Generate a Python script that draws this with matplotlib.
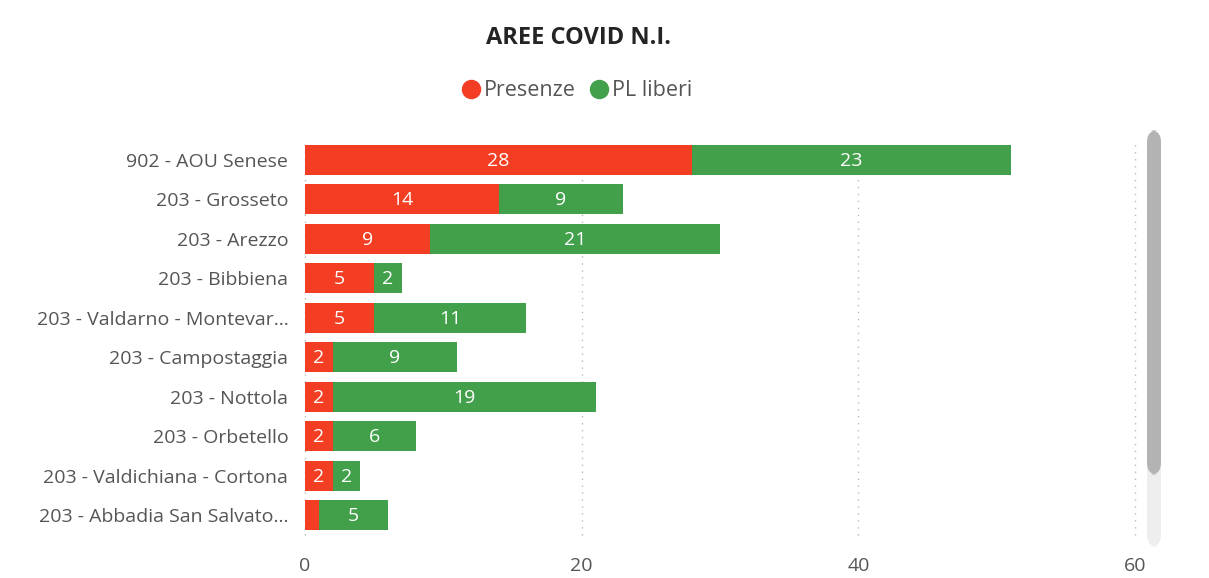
import matplotlib.pyplot as plt
from matplotlib.patches import FancyBboxPatch
from matplotlib.lines import Line2D

# Data
categories = [
    "902 - AOU Senese",
    "203 - Grosseto",
    "203 - Arezzo",
    "203 - Bibbiena",
    "203 - Valdarno - Montevar...",
    "203 - Campostaggia",
    "203 - Nottola",
    "203 - Orbetello",
    "203 - Valdichiana - Cortona",
    "203 - Abbadia San Salvato...",
]
presenze = [28, 14, 9, 5, 5, 2, 2, 2, 2, 1]
pl_liberi = [23, 9, 21, 2, 11, 9, 19, 6, 2, 5]
x_ticks = [0, 20, 40, 60]

RED = "#F43E24"
GREEN = "#42A04B"
TXT = "#555555"

plt.rcParams['font.family'] = ['Open Sans', 'DejaVu Sans']

fig = plt.figure(figsize=(12.09, 5.78), dpi=100)
W, H = 1209, 578
ax = fig.add_axes([305 / W, 1 - 535 / H, (1135 - 305) / W, 395 / H])

y = list(range(len(categories)))
ax.barh(y, presenze, height=0.76, color=RED, zorder=2)
ax.barh(y, pl_liberi, left=presenze, height=0.76, color=GREEN, zorder=2)

for i, (p, l) in enumerate(zip(presenze, pl_liberi)):
    if p >= 2:
        ax.text(p / 2, i + 0.03, str(p), ha='center', va='center', color='white', fontsize=14, zorder=3)
    ax.text(p + l / 2, i + 0.03, str(l), ha='center', va='center', color='white', fontsize=14, zorder=3)

ax.set_xlim(0, 60)
ax.set_ylim(len(categories) - 0.5, -0.5)
ax.set_yticks(y)
ax.set_yticklabels(categories, fontsize=14, color=TXT)
ax.set_xticks(x_ticks)
ax.set_xticklabels([str(t) for t in x_ticks], fontsize=14, color=TXT)
ax.tick_params(length=0)
ax.tick_params(axis='y', pad=12)
ax.tick_params(axis='x', pad=16)
ax.grid(axis='x', linestyle=(0, (1, 4)), color='#BBBBBB', linewidth=1, zorder=1)
for gl in ax.get_xgridlines():
    gl.set_clip_on(False)
for s in ax.spines.values():
    s.set_visible(False)

# Title and legend
fig.text(578 / W, 1 - 38 / H, "AREE COVID N.I.", ha='center', va='center',
         fontsize=17, fontweight='bold', color='#252423')
handles = [
    Line2D([], [], marker='o', linestyle='', markersize=13, color=RED, label='Presenze'),
    Line2D([], [], marker='o', linestyle='', markersize=13, color=GREEN, label='PL liberi'),
]
fig.legend(handles=handles, loc='center', bbox_to_anchor=(575 / W, 1 - 91 / H), ncol=2,
           frameon=False, fontsize=15.5, labelcolor=TXT, handletextpad=0.0,
           columnspacing=0.5, handlelength=1.2)

# Scrollbar
track = FancyBboxPatch((1147 / W, 1 - 547 / H), 14 / W, 417 / H,
                       boxstyle="round,pad=0,rounding_size=0.01", transform=fig.transFigure,
                       facecolor='#EEEEEE', edgecolor='none', mutation_aspect=W / H)
thumb = FancyBboxPatch((1147 / W, 1 - 475 / H), 14 / W, 345 / H,
                       boxstyle="round,pad=0,rounding_size=0.01", transform=fig.transFigure,
                       facecolor='#B3B3B3', edgecolor='none', mutation_aspect=W / H)
fig.patches.extend([track, thumb])

fig.savefig("out.png", dpi=100)
